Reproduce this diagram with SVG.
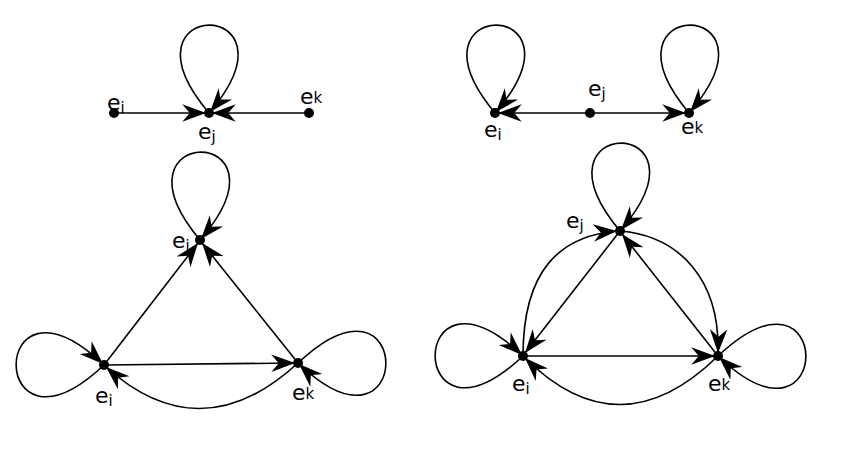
<svg xmlns="http://www.w3.org/2000/svg" width="847" height="454" viewBox="0 0 847 454">
<defs>
<marker id="ah" markerUnits="userSpaceOnUse" markerWidth="30" markerHeight="30" viewBox="-20 -10 24 20" refX="0" refY="0" orient="auto">
<path d="M0,0 L-19,-7 L-13,0 L-19,7 Z" fill="#000"/>
</marker>
<style>
.e{fill:none;stroke:#000;stroke-width:1.6;marker-end:url(#ah)}
.n{fill:#000}
text{font-family:"DejaVu Sans",sans-serif;font-size:22px;fill:#000}
.s{font-size:15px}
</style>
</defs>
<rect width="847" height="454" fill="#fff"/>
<g id="connectors">
<!-- top-left -->
<path class="e" d="M114,113 L206,113"/>
<path class="e" d="M309,113 L212,113"/>
<path class="e" d="M209,113 C110,-4 308,-4 210,112"/>
<!-- top-right -->
<path class="e" d="M590,113 L498,113"/>
<path class="e" d="M590,113 L686,113"/>
<path class="e" d="M495,113 C397,-4 595,-4 496,112"/>
<path class="e" d="M689,113 C591,-4 789,-4 690,112"/>
<!-- bottom-left -->
<path class="e" d="M200,240 C102,123 300,123 201,239"/>
<path class="e" d="M104,365 L198,243"/>
<path class="e" d="M298,363 L202,243"/>
<path class="e" d="M104,365 L295,363"/>
<path class="e" d="M104,365 C-13,475 -13,255 103,364"/>
<path class="e" d="M298,363 C415,253 415,473 299,364"/>
<path class="e" d="M298,363 Q201,452 106,367"/>
<!-- bottom-right -->
<path class="e" d="M620,231 C522,114 720,114 621,230"/>
<path class="e" d="M620,231 L525,353"/>
<path class="e" d="M718,356 L622,234"/>
<path class="e" d="M523,356 L715,356"/>
<path class="e" d="M523,356 C523,270 560,236 617,231"/>
<path class="e" d="M620,231 C680,236 720,280 718,353"/>
<path class="e" d="M523,356 C406,466 406,246 522,355"/>
<path class="e" d="M718,356 C835,246 835,466 719,357"/>
<path class="e" d="M718,356 Q620,452 525,358"/>
</g>
<g id="tl_ei"><circle class="n" cx="114" cy="113" r="5"/><text x="107" y="110">e<tspan class="s" dy="3">i</tspan></text></g>
<g id="tl_ej"><circle class="n" cx="209" cy="113" r="5"/><text x="198" y="139">e<tspan class="s" dy="3">j</tspan></text></g>
<g id="tl_ek"><circle class="n" cx="309" cy="113" r="5"/><text x="300" y="104">e<tspan class="s" dy="-1">k</tspan></text></g>
<g id="tr_ei"><circle class="n" cx="495" cy="113" r="5"/><text x="484" y="137">e<tspan class="s" dy="3">i</tspan></text></g>
<g id="tr_ej"><circle class="n" cx="590" cy="113" r="5"/><text x="588" y="96">e<tspan class="s" dy="3">j</tspan></text></g>
<g id="tr_ek"><circle class="n" cx="689" cy="113" r="5"/><text x="681" y="134">e<tspan class="s" dy="-1">k</tspan></text></g>
<g id="bl_ej"><circle class="n" cx="200" cy="240" r="5"/><text x="172" y="248">e<tspan class="s" dy="3">j</tspan></text></g>
<g id="bl_ei"><circle class="n" cx="104" cy="365" r="5"/><text x="95" y="403">e<tspan class="s" dy="3">i</tspan></text></g>
<g id="bl_ek"><circle class="n" cx="298" cy="363" r="5"/><text x="292" y="400">e<tspan class="s" dy="-1">k</tspan></text></g>
<g id="br_ej"><circle class="n" cx="620" cy="231" r="5"/><text x="566" y="228">e<tspan class="s" dy="3">j</tspan></text></g>
<g id="br_ei"><circle class="n" cx="523" cy="356" r="5"/><text x="512" y="391">e<tspan class="s" dy="3">i</tspan></text></g>
<g id="br_ek"><circle class="n" cx="718" cy="356" r="5"/><text x="708" y="391">e<tspan class="s" dy="-1">k</tspan></text></g>
</svg>
